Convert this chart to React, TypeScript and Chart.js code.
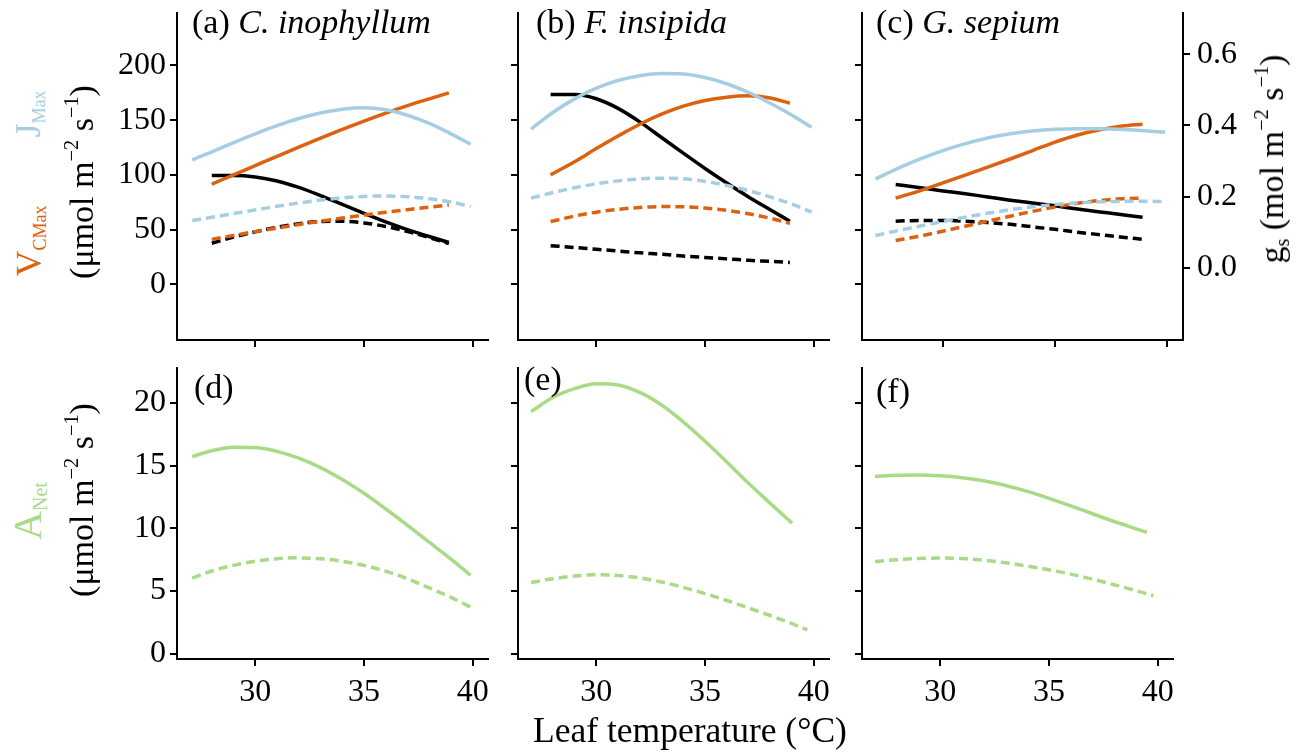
import React, { useEffect, useRef } from "react";
import { Chart, registerables } from "chart.js";

Chart.register(...registerables);

const SERIF = "'Liberation Serif', 'Times New Roman', serif";
const CANVAS_SERIF = "Liberation Serif, Times New Roman, serif";
Chart.defaults.font.family = CANVAS_SERIF;

const BLUE = "#A6CEE3";
const ORANGE = "#DD6210";
const GREEN = "#A9DA86";
const BLACK = "#000000";

// Axis ranges / ticks
const X_MIN = 26.4;
const X_MAX = 40.7;
const X_TICKS = [30, 35, 40];
const TOP_Y_MIN = -51;
const TOP_Y_MAX = 248;
const TOP_Y_TICKS = [0, 50, 100, 150, 200];
const GS_MIN = -0.203;
const GS_MAX = 0.716;
const GS_TICKS = [0, 0.2, 0.4, 0.6];
const BOT_Y_MIN = -0.42;
const BOT_Y_MAX = 22.8;
const BOT_Y_TICKS = [0, 5, 10, 15, 20];

// ---- Panel (a) C. inophyllum ----
const tJ_a = [27.1, 28, 29, 30, 31, 32, 33, 34, 35, 36, 37, 38, 39, 39.9];
const jmaxSolid_a = [113.7, 121, 129.5, 137.5, 145, 151.5, 156.5, 160, 161.3, 159.5, 154.5, 147, 137.5, 128];
const jmaxDash_a = [58.2, 61.2, 64.6, 68, 71.3, 74.3, 77, 79, 80.3, 80.7, 80, 78.2, 75.2, 71];
const tV_a = [28, 29, 30, 31, 32, 33, 34, 35, 36, 37, 38, 38.9];
const vcmaxSolid_a = [91.5, 100, 108.5, 117, 125.3, 133.5, 141.5, 149.2, 156.5, 163.3, 169.5, 175];
const vcmaxDash_a = [41, 44.6, 48.1, 51.4, 54.6, 57.6, 60.5, 63.2, 65.8, 68.2, 70.4, 72.5];
const gsSolid_a = [0.259, 0.259, 0.255, 0.244, 0.226, 0.203, 0.178, 0.153, 0.129, 0.107, 0.088, 0.071];
const gsDash_a = [0.069, 0.086, 0.101, 0.114, 0.124, 0.13, 0.131, 0.126, 0.116, 0.102, 0.085, 0.068];

// ---- Panel (b) F. insipida ----
const tJ_b = [27, 28, 29, 30, 31, 32, 33, 34, 35, 36, 37, 38, 39, 39.9];
const jmaxSolid_b = [141.8, 157, 169.5, 179.3, 186.3, 190.7, 192.6, 192.2, 189, 183.3, 175.3, 165.5, 154.5, 143.5];
const jmaxDash_b = [78.7, 83.8, 88.2, 91.8, 94.5, 96.3, 97, 96.4, 94, 90.3, 85.6, 79.8, 73.2, 66];
const tV_b = [27.9, 29, 30, 31, 32, 33, 34, 35, 36, 37, 38, 38.9];
const vcmaxSolid_b = [100, 112, 124, 135.5, 146.3, 155.5, 162.8, 168, 171, 172.3, 170.3, 165.5];
const vcmaxDash_b = [57.3, 62.3, 65.9, 68.5, 70.2, 71, 70.8, 69.6, 67.5, 64.4, 60.3, 55.8];
const gsSolid_b = [0.487, 0.487, 0.475, 0.448, 0.41, 0.366, 0.322, 0.279, 0.238, 0.199, 0.163, 0.131];
const gsDash_b = [0.062, 0.057, 0.052, 0.047, 0.042, 0.038, 0.033, 0.029, 0.025, 0.021, 0.018, 0.015];

// ---- Panel (c) G. sepium ----
const tJ_c = [27, 28, 29, 30, 31, 32, 33, 34, 35, 36, 37, 38, 39, 39.9];
const jmaxSolid_c = [96.3, 106, 114.6, 122.1, 128.5, 133.7, 137.5, 140.1, 141.6, 142.2, 142.1, 141.5, 140.4, 139];
const jmaxDash_c = [44.5, 49, 53.3, 57.4, 61.3, 64.9, 68.1, 70.8, 72.9, 74.4, 75.3, 75.7, 75.8, 75.7];
const tV_c = [27.9, 29, 30, 31, 32, 33, 34, 35, 36, 37, 38, 38.9];
const vcmaxSolid_c = [78.7, 85.6, 92.6, 99.7, 107, 114.5, 122.2, 130, 136.5, 141.3, 144.6, 146.3];
const vcmaxDash_c = [39.9, 44.1, 48.5, 53, 57.6, 62.2, 66.6, 70.6, 74, 76.6, 78.2, 78.8];
const gsSolid_c = [0.234, 0.225, 0.216, 0.208, 0.199, 0.19, 0.182, 0.174, 0.165, 0.157, 0.149, 0.142];
const gsDash_c = [0.131, 0.133, 0.133, 0.131, 0.127, 0.122, 0.115, 0.108, 0.1, 0.093, 0.086, 0.08];

// ---- Panel (d) ANet ----
const tAs_d = [27.1, 28, 29, 30, 31, 32, 33, 34, 35, 36, 37, 38, 39, 39.9];
const anetSolid_d = [15.73, 16.2, 16.48, 16.45, 16.15, 15.6, 14.85, 13.9, 12.8, 11.55, 10.25, 8.9, 7.55, 6.25];
const tAd_d = [27.1, 28, 29, 30, 31, 32, 33, 34, 35, 36, 37, 38, 39, 39.9];
const anetDash_d = [6.04, 6.6, 7.05, 7.38, 7.58, 7.65, 7.58, 7.38, 7.05, 6.58, 5.98, 5.25, 4.5, 3.72];

// ---- Panel (e) ANet ----
const tAs_e = [27, 28, 29, 30, 31, 32, 33, 34, 35, 36, 37, 38, 39];
const anetSolid_e = [19.32, 20.45, 21.15, 21.55, 21.45, 20.85, 19.85, 18.5, 16.95, 15.3, 13.6, 12.0, 10.42];
const tAd_e = [27, 28, 29, 30, 31, 32, 33, 34, 35, 36, 37, 38, 39, 39.7];
const anetDash_e = [5.69, 5.98, 6.2, 6.3, 6.25, 6.05, 5.72, 5.3, 4.8, 4.25, 3.65, 3.05, 2.4, 1.91];

// ---- Panel (f) ANet ----
const tAs_f = [27, 28, 29, 30, 31, 32, 33, 34, 35, 36, 37, 38, 39, 39.5];
const anetSolid_f = [14.14, 14.25, 14.27, 14.2, 14.05, 13.8, 13.42, 12.95, 12.4, 11.8, 11.17, 10.55, 9.97, 9.68];
const tAd_f = [27, 28, 29, 30, 31, 32, 33, 34, 35, 36, 37, 38, 39, 39.8];
const anetDash_f = [7.36, 7.5, 7.6, 7.63, 7.6, 7.46, 7.26, 7.0, 6.7, 6.35, 5.95, 5.5, 5.03, 4.63];

type SeriesDef = { t: number[]; v: number[]; color: string; dash: boolean; gs?: boolean };

interface PanelProps {
  left: number;
  top: number;
  width: number;
  height: number;
  yMin: number;
  yMax: number;
  yTicks: number[];
  yLabels: boolean;
  xLabels: boolean;
  gsShown: boolean;
  series: SeriesDef[];
}

const TICK_FONT_SIZE = 32;

function Panel(p: PanelProps) {
  const ref = useRef<HTMLCanvasElement | null>(null);
  const ML = 80;
  const MT = 10;
  const MR = p.gsShown ? 80 : 10;
  const MB = p.xLabels ? 60 : 14;
  const cw = ML + p.width + MR;
  const ch = MT + p.height + MB;

  useEffect(() => {
    if (!ref.current) return;
    const tickFont = { family: CANVAS_SERIF, size: TICK_FONT_SIZE };
    const grid = { display: true, drawOnChartArea: false, drawTicks: true, tickLength: 7, color: BLACK, lineWidth: 2 };
    const border = { display: true, color: BLACK, width: 2 };
    const zeroPad = (s: any) => {
      s.paddingLeft = 0;
      s.paddingRight = 0;
      s.paddingTop = 0;
      s.paddingBottom = 0;
    };
    const chart = new Chart(ref.current, {
      type: "line",
      data: {
        datasets: p.series.map((s) => ({
          data: s.t.map((x, i) => ({ x, y: s.v[i] })),
          borderColor: s.color,
          backgroundColor: s.color,
          borderWidth: 3.5,
          borderDash: s.dash ? [9, 5] : [],
          pointRadius: 0,
          fill: false,
          cubicInterpolationMode: "monotone",
          yAxisID: s.gs ? "y2" : "y",
        })),
      },
      options: {
        responsive: false,
        animation: false,
        events: [],
        layout: { padding: { left: 0, right: p.gsShown ? 0 : MR, top: MT, bottom: 0 } },
        plugins: { legend: { display: false }, tooltip: { enabled: false } },
        scales: {
          x: {
            type: "linear",
            min: X_MIN,
            max: X_MAX,
            afterBuildTicks: (a: any) => {
              a.ticks = X_TICKS.map((value) => ({ value }));
            },
            afterFit: (s: any) => {
              s.height = MB;
              zeroPad(s);
            },
            grid,
            border,
            ticks: {
              display: p.xLabels,
              color: BLACK,
              font: tickFont,
              padding: 7,
              maxRotation: 0,
              autoSkip: false,
              callback: (v: any) => String(v),
            },
          },
          y: {
            type: "linear",
            position: "left",
            min: p.yMin,
            max: p.yMax,
            afterBuildTicks: (a: any) => {
              a.ticks = p.yTicks.map((value) => ({ value }));
            },
            afterFit: (s: any) => {
              s.width = ML;
              zeroPad(s);
            },
            grid,
            border,
            ticks: {
              display: p.yLabels,
              color: BLACK,
              font: tickFont,
              padding: 4,
              autoSkip: false,
              callback: (v: any) => String(v),
            },
          },
          y2: {
            type: "linear",
            position: "right",
            display: p.gsShown,
            min: GS_MIN,
            max: GS_MAX,
            afterBuildTicks: (a: any) => {
              a.ticks = GS_TICKS.map((value) => ({ value }));
            },
            afterFit: (s: any) => {
              s.width = MR;
              zeroPad(s);
            },
            grid,
            border,
            ticks: {
              display: true,
              color: BLACK,
              font: tickFont,
              padding: 7,
              autoSkip: false,
              callback: (v: any) => Number(v).toFixed(1),
            },
          },
        },
      } as any,
    });
    return () => chart.destroy();
  }, []);

  return (
    <canvas
      ref={ref}
      width={cw}
      height={ch}
      style={{ position: "absolute", left: p.left - ML, top: p.top - MT, width: cw, height: ch }}
    />
  );
}

const supStyle: React.CSSProperties = { fontSize: "0.6em", position: "relative", top: "-0.75em" };
const subStyle: React.CSSProperties = { position: "relative", top: "0.3em" };

function Rotated(props: { cx: number; cy: number; size: number; color: string; children: React.ReactNode }) {
  return (
    <div
      style={{
        position: "absolute",
        left: props.cx,
        top: props.cy,
        transform: "translate(-50%, -50%) rotate(-90deg)",
        whiteSpace: "nowrap",
        fontFamily: SERIF,
        fontSize: props.size,
        lineHeight: 1,
        color: props.color,
      }}
    >
      {props.children}
    </div>
  );
}

function Label(props: { left: number; top: number; size: number; children: React.ReactNode }) {
  return (
    <div
      style={{
        position: "absolute",
        left: props.left,
        top: props.top,
        whiteSpace: "nowrap",
        fontFamily: SERIF,
        fontSize: props.size,
        lineHeight: 1,
        color: BLACK,
      }}
    >
      {props.children}
    </div>
  );
}

const PANEL_LEFTS = [177, 518, 862];
const PANEL_W = 321;
const TOP_ROW = { top: 13, height: 327 };
const BOT_ROW = { top: 368, height: 291 };

function topSeries(tJ: number[], jS: number[], jD: number[], tV: number[], vS: number[], vD: number[], gS: number[], gD: number[]): SeriesDef[] {
  return [
    { t: tJ, v: jS, color: BLUE, dash: false },
    { t: tJ, v: jD, color: BLUE, dash: true },
    { t: tV, v: vS, color: ORANGE, dash: false },
    { t: tV, v: vD, color: ORANGE, dash: true },
    { t: tV, v: gS, color: BLACK, dash: false, gs: true },
    { t: tV, v: gD, color: BLACK, dash: true, gs: true },
  ];
}

export default function App() {
  const unit = (
    <>
      (μmol m<span style={supStyle}>−2</span> s<span style={supStyle}>−1</span>)
    </>
  );
  return (
    <div style={{ position: "absolute", left: 0, top: 0, width: 1303, height: 752, background: "#fff", overflow: "hidden" }}>
      {/* top row */}
      <Panel left={PANEL_LEFTS[0]} top={TOP_ROW.top} width={PANEL_W} height={TOP_ROW.height}
        yMin={TOP_Y_MIN} yMax={TOP_Y_MAX} yTicks={TOP_Y_TICKS} yLabels={true} xLabels={false} gsShown={false}
        series={topSeries(tJ_a, jmaxSolid_a, jmaxDash_a, tV_a, vcmaxSolid_a, vcmaxDash_a, gsSolid_a, gsDash_a)} />
      <Panel left={PANEL_LEFTS[1]} top={TOP_ROW.top} width={PANEL_W} height={TOP_ROW.height}
        yMin={TOP_Y_MIN} yMax={TOP_Y_MAX} yTicks={TOP_Y_TICKS} yLabels={false} xLabels={false} gsShown={false}
        series={topSeries(tJ_b, jmaxSolid_b, jmaxDash_b, tV_b, vcmaxSolid_b, vcmaxDash_b, gsSolid_b, gsDash_b)} />
      <Panel left={PANEL_LEFTS[2]} top={TOP_ROW.top} width={PANEL_W} height={TOP_ROW.height}
        yMin={TOP_Y_MIN} yMax={TOP_Y_MAX} yTicks={TOP_Y_TICKS} yLabels={false} xLabels={false} gsShown={true}
        series={topSeries(tJ_c, jmaxSolid_c, jmaxDash_c, tV_c, vcmaxSolid_c, vcmaxDash_c, gsSolid_c, gsDash_c)} />
      {/* bottom row */}
      <Panel left={PANEL_LEFTS[0]} top={BOT_ROW.top} width={PANEL_W} height={BOT_ROW.height}
        yMin={BOT_Y_MIN} yMax={BOT_Y_MAX} yTicks={BOT_Y_TICKS} yLabels={true} xLabels={true} gsShown={false}
        series={[
          { t: tAs_d, v: anetSolid_d, color: GREEN, dash: false },
          { t: tAd_d, v: anetDash_d, color: GREEN, dash: true },
        ]} />
      <Panel left={PANEL_LEFTS[1]} top={BOT_ROW.top} width={PANEL_W} height={BOT_ROW.height}
        yMin={BOT_Y_MIN} yMax={BOT_Y_MAX} yTicks={BOT_Y_TICKS} yLabels={false} xLabels={true} gsShown={false}
        series={[
          { t: tAs_e, v: anetSolid_e, color: GREEN, dash: false },
          { t: tAd_e, v: anetDash_e, color: GREEN, dash: true },
        ]} />
      <Panel left={PANEL_LEFTS[2]} top={BOT_ROW.top} width={PANEL_W} height={BOT_ROW.height}
        yMin={BOT_Y_MIN} yMax={BOT_Y_MAX} yTicks={BOT_Y_TICKS} yLabels={false} xLabels={true} gsShown={false}
        series={[
          { t: tAs_f, v: anetSolid_f, color: GREEN, dash: false },
          { t: tAd_f, v: anetDash_f, color: GREEN, dash: true },
        ]} />

      {/* panel titles */}
      <Label left={192} top={5} size={34}>(a) <i>C. inophyllum</i></Label>
      <Label left={536} top={5} size={34}>(b) <i>F. insipida</i></Label>
      <Label left={876} top={5} size={34}>(c) <i>G. sepium</i></Label>
      <Label left={194} top={370} size={34}>(d)</Label>
      <Label left={524} top={362} size={34}>(e)</Label>
      <Label left={876} top={374} size={34}>(f)</Label>

      {/* axis titles */}
      <div style={{ position: "absolute", left: 390, top: 713, width: 600, textAlign: "center", fontFamily: SERIF, fontSize: 35.5, lineHeight: 1, whiteSpace: "nowrap" }}>
        Leaf temperature (°C)
      </div>
      <Rotated cx={28} cy={114} size={36} color={BLUE}>
        J<span style={{ ...subStyle, fontSize: 18 }}>Max</span>
      </Rotated>
      <Rotated cx={29} cy={241} size={36} color={ORANGE}>
        V<span style={{ ...subStyle, fontSize: 18 }}>CMax</span>
      </Rotated>
      <Rotated cx={82} cy={182} size={34} color={BLACK}>{unit}</Rotated>
      <Rotated cx={28} cy={511} size={40} color={GREEN}>
        A<span style={{ ...subStyle, fontSize: 20 }}>Net</span>
      </Rotated>
      <Rotated cx={82} cy={500} size={34} color={BLACK}>{unit}</Rotated>
      <Rotated cx={1272} cy={159} size={34} color={BLACK}>
        g<span style={{ ...subStyle, fontSize: 20 }}>s</span> (mol m<span style={supStyle}>−2</span> s<span style={supStyle}>−1</span>)
      </Rotated>
    </div>
  );
}
